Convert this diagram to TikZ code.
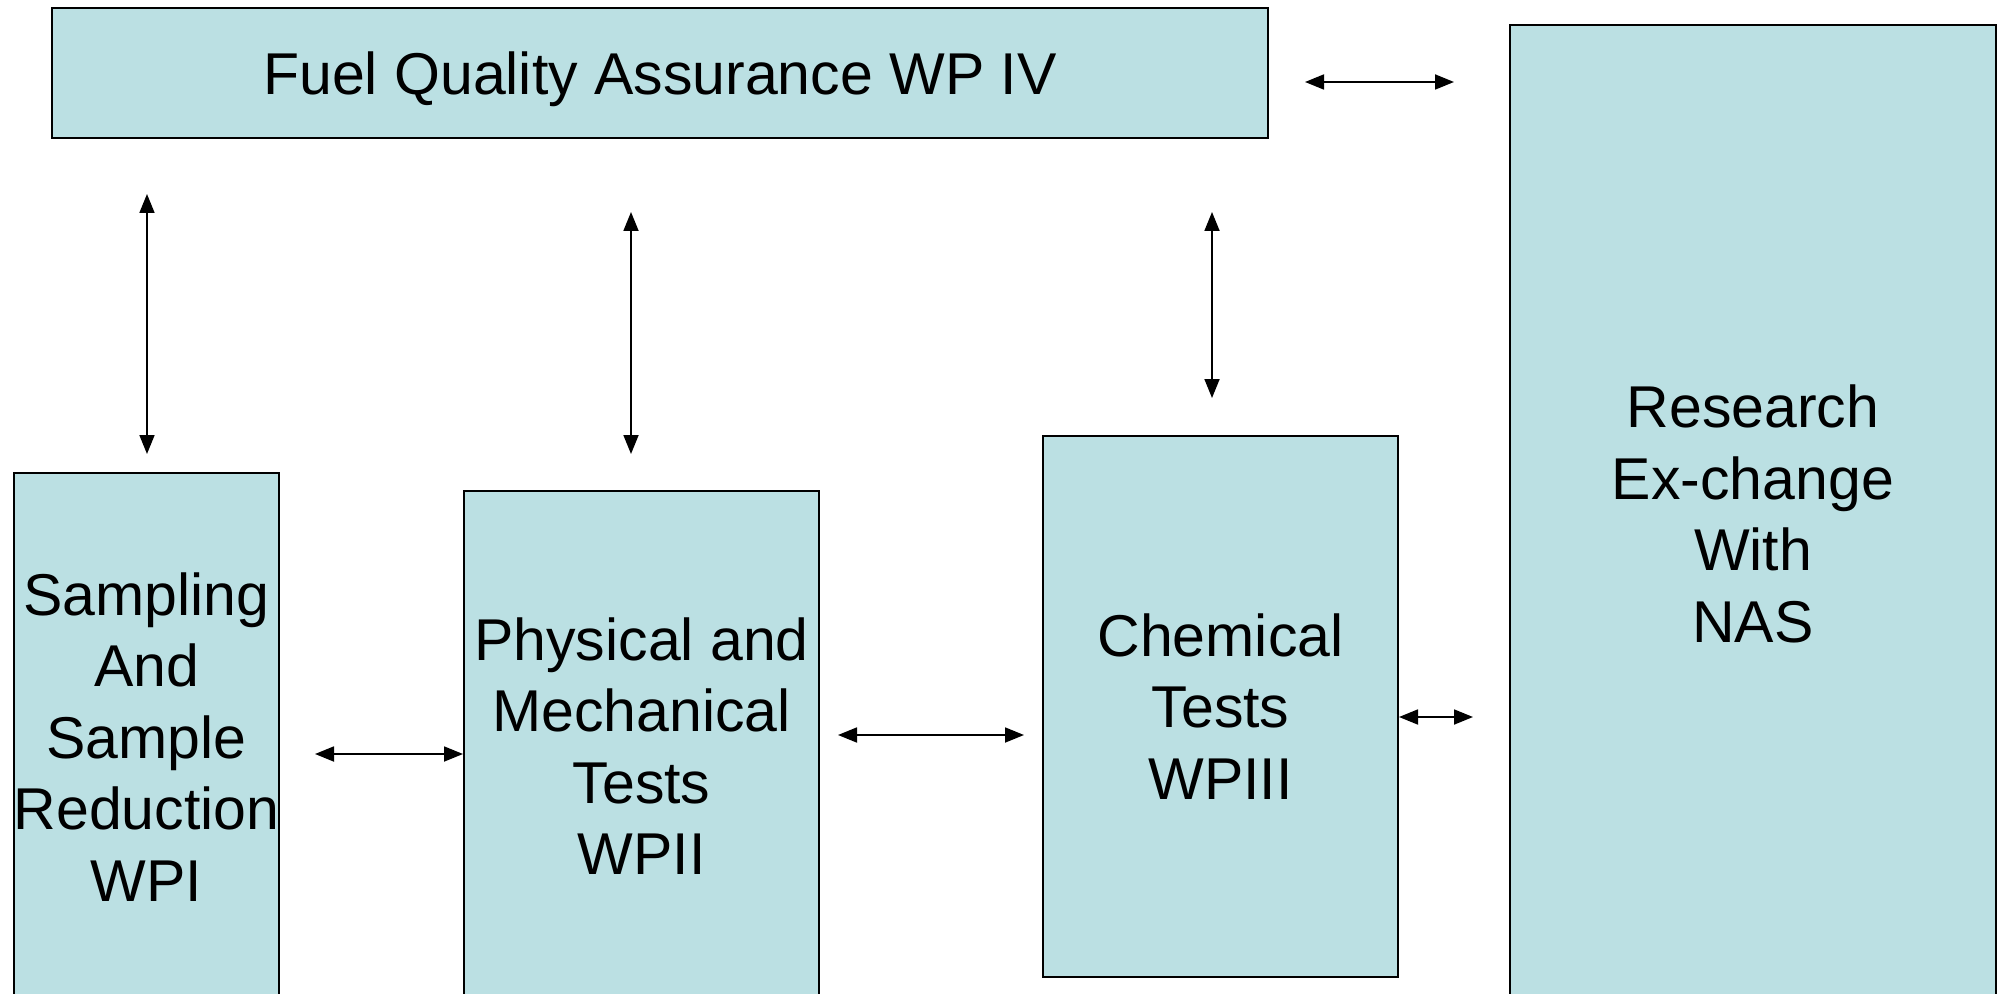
\documentclass[tikz,border=0pt]{standalone}
\usepackage{fontspec}
\setmainfont{Liberation Sans}
\usetikzlibrary{arrows.meta}
\definecolor{boxfill}{RGB}{187,224,227}
\tikzset{
  wpbox/.style={draw=black, line width=1pt, fill=boxfill, rectangle, inner sep=0pt, align=center,
    font=\fontsize{29.5}{35.7}\selectfont},
  dbl/.style={line width=0.9pt, {Triangle[length=9.5pt,width=7.5pt]}-{Triangle[length=9.5pt,width=7.5pt]}}
}
\begin{document}
\begin{tikzpicture}[x=0.5pt,y=-0.5pt]
\useasboundingbox (0,0) rectangle (2000,994);
\clip (0,0) rectangle (2000,994);
\node[wpbox, minimum width=608pt, minimum height=65pt] (top) at (660,73) {\raisebox{-11pt}[0pt][0pt]{Fuel Quality Assurance WP IV}};
\node[wpbox, minimum width=243pt, minimum height=489pt] (nas) at (1753,514) {Research\\Ex-change\\With\\NAS};
\node[wpbox, minimum width=131.5pt, minimum height=264pt] (wp1) at (146.5,737) {Sampling\\And\\Sample\\Reduction\\WPI};
\node[wpbox, minimum width=177.5pt, minimum height=255pt] (wp2) at (641.5,746) {Physical and\\Mechanical\\Tests\\WPII};
\node[wpbox, minimum width=177.5pt, minimum height=270.5pt] (wp3) at (1220.5,706.5) {Chemical\\Tests\\WPIII};
\coordinate (t1) at (1305,82);  \coordinate (t2) at (1454,82);
\coordinate (v1a) at (147,194); \coordinate (v1b) at (147,454);
\coordinate (v2a) at (631,212); \coordinate (v2b) at (631,454);
\coordinate (v3a) at (1212,212); \coordinate (v3b) at (1212,398);
\coordinate (h1a) at (315,754); \coordinate (h1b) at (463,754);
\coordinate (h2a) at (838,735); \coordinate (h2b) at (1024,735);
\coordinate (h3a) at (1399,717); \coordinate (h3b) at (1473,717);
\draw[dbl] (t1) -- (t2);
\draw[dbl] (v1a) -- (v1b);
\draw[dbl] (v2a) -- (v2b);
\draw[dbl] (v3a) -- (v3b);
\draw[dbl] (h1a) -- (h1b);
\draw[dbl] (h2a) -- (h2b);
\draw[dbl] (h3a) -- (h3b);
\end{tikzpicture}
\end{document}
